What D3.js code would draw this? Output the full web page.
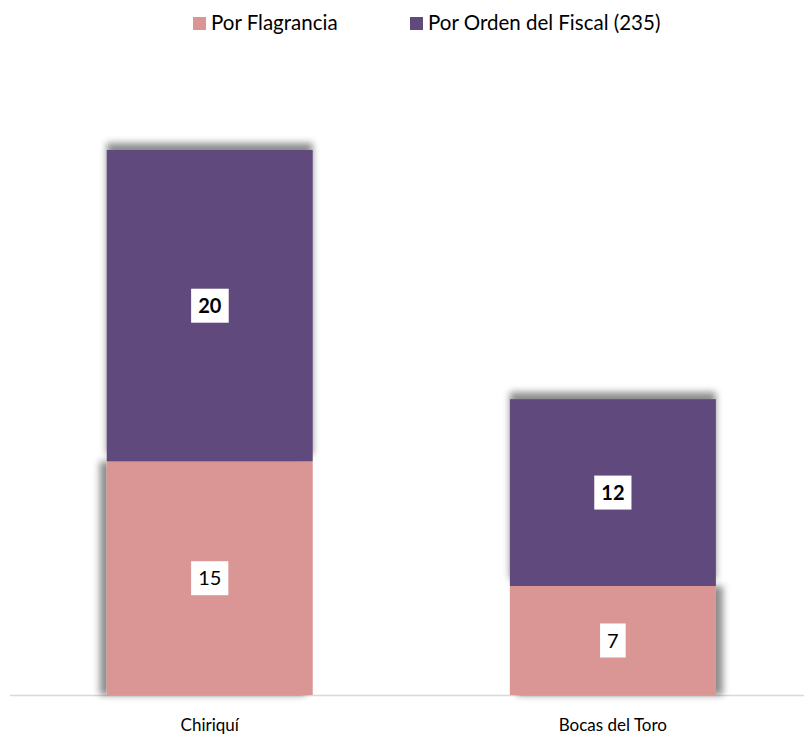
<!DOCTYPE html>
<html>
<head>
<meta charset="utf-8">
<script src="https://cdn.jsdelivr.net/npm/d3@7"></script>
<style>
  body { margin: 0; background: #fff; }
  text { font-family: Lato, "Open Sans", sans-serif; }
</style>
</head>
<body>
<svg id="chart" width="804" height="735"></svg>
<script>
// data
var categories = ["Chiriquí", "Bocas del Toro"];
var seriesNames = ["Por Flagrancia", "Por Orden del Fiscal (235)"];
var flagrancia = [15, 7];
var ordenFiscal = [20, 12];
var colors = ["#d99694", "#604a7b"];

var svg = d3.select("#chart");
var baseY = 695, topY = 150;

var x = d3.scaleBand().domain(categories).range([14, 808.6]).paddingInner(0.489).paddingOuter(0.23);
var y = d3.scaleLinear().domain([0, 35]).range([baseY, topY]);

// shadows
var defs = svg.append("defs");
function shadow(id, dx, dy) {
  var f = defs.append("filter").attr("id", id).attr("x", "-20%").attr("y", "-20%").attr("width", "140%").attr("height", "140%");
  f.append("feDropShadow").attr("dx", dx).attr("dy", dy).attr("stdDeviation", 3.5)
    .attr("flood-color", "#000").attr("flood-opacity", 0.45);
}
shadow("shUp", 0, -7);
shadow("shLeft", -7, 0);
shadow("shRight", 7, 0);

var stacked = categories.map(function(c, i) {
  return [
    { cat: c, s: 0, y0: 0, y1: flagrancia[i], v: flagrancia[i] },
    { cat: c, s: 1, y0: flagrancia[i], y1: flagrancia[i] + ordenFiscal[i], v: ordenFiscal[i] }
  ];
});

// axis line
svg.append("line").attr("x1", 10).attr("x2", 804).attr("y1", baseY + 0.5).attr("y2", baseY + 0.5)
  .attr("stroke", "#d9d9d9").attr("stroke-width", 1.5);

var segs = d3.merge(stacked);

// pinks first, then purples
svg.selectAll("rect.seg").data(segs.slice().sort(function(a, b) { return a.s - b.s; }))
  .enter().append("rect").attr("class", "seg")
  .attr("x", function(d) { return x(d.cat); })
  .attr("width", x.bandwidth())
  .attr("y", function(d) { return y(d.y1); })
  .attr("height", function(d) { return y(d.y0) - y(d.y1); })
  .attr("fill", function(d) { return colors[d.s]; })
  .attr("filter", function(d) {
    if (d.s == 1) return "url(#shUp)";
    return d.cat == categories[0] ? "url(#shLeft)" : "url(#shRight)";
  });

// value labels
var lab = svg.selectAll("g.lab").data(segs).enter().append("g").attr("class", "lab")
  .attr("transform", function(d) {
    return "translate(" + (x(d.cat) + x.bandwidth() / 2) + "," + y((d.y0 + d.y1) / 2) + ")";
  });
lab.append("text")
  .attr("text-anchor", "middle").attr("dy", "0.36em")
  .attr("font-size", 20)
  .attr("font-weight", function(d) { return d.s == 1 ? "bold" : "normal"; })
  .attr("fill", "#000")
  .text(function(d) { return d.v; });
lab.each(function() {
  var g = d3.select(this);
  var bb = g.select("text").node().getBBox();
  g.insert("rect", "text")
    .attr("x", bb.x - 7).attr("y", -17)
    .attr("width", bb.width + 14).attr("height", 34)
    .attr("fill", "#fff");
});

// category labels
svg.selectAll("text.cat").data(categories).enter().append("text").attr("class", "cat")
  .attr("x", function(d) { return x(d) + x.bandwidth() / 2; })
  .attr("y", 731)
  .attr("text-anchor", "middle")
  .attr("font-size", 17)
  .attr("fill", "#000")
  .text(function(d) { return d; });

// legend
var legX = [193, 410];
var leg = svg.selectAll("g.leg").data(seriesNames).enter().append("g").attr("class", "leg")
  .attr("transform", function(d, i) { return "translate(" + legX[i] + ",17)"; });
leg.append("rect").attr("width", 13).attr("height", 13).attr("fill", function(d, i) { return colors[i]; });
leg.append("text").attr("x", 18).attr("y", 13).attr("font-size", 20.5).attr("fill", "#000")
  .text(function(d) { return d; });
</script>
</body>
</html>
